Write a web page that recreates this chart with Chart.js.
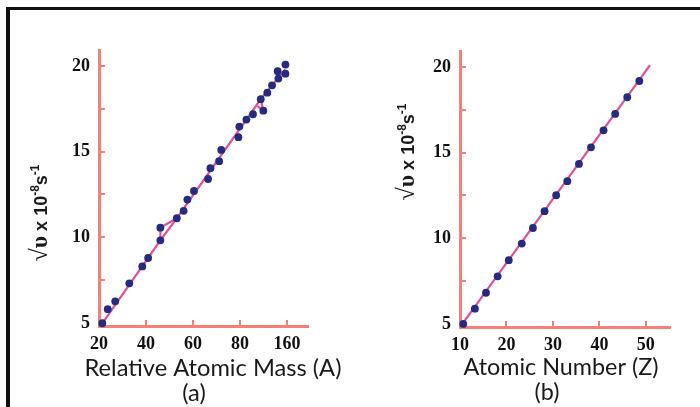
<!DOCTYPE html>
<html><head><meta charset="utf-8">
<script src="https://cdn.jsdelivr.net/npm/chart.js@4.4.1/dist/chart.umd.min.js"></script>
<style>
html,body{margin:0;padding:0;background:#fff;width:700px;height:407px;overflow:hidden;position:relative}
#frame{position:absolute;left:6px;top:7px;width:700px;height:410px;border-top:3px solid #111;border-left:4px solid #111;box-sizing:border-box}
.c{position:absolute;top:0;width:350px;height:407px}
</style></head><body>
<div id="frame"></div>
<div class="c" style="left:0"><canvas id="a" width="350" height="407"></canvas></div>
<div class="c" style="left:350px"><canvas id="b" width="350" height="407"></canvas></div>
<script>
// ---- Chart (a): relative atomic mass (x positions in axis units 20..100, last tick labelled 160)
const massA = [21.4, 23.7, 26.9, 32.9, 38.4, 40.9, 46.1, 46.1, 53.1, 56.0, 57.6, 60.4, 66.4, 67.4,
               71.1, 72.0, 79.3, 79.7, 82.7, 85.5, 88.8, 89.9, 91.6, 93.6, 96.0, 96.3, 99.3, 99.3];
const rootFreqA = [4.98, 5.80, 6.26, 7.31, 8.30, 8.79, 9.82, 10.56, 11.11, 11.54, 12.20, 12.70, 13.40, 14.03,
                   14.44, 15.10, 15.84, 16.46, 16.87, 17.18, 18.06, 17.39, 18.44, 18.87, 19.69, 19.26, 20.08, 19.55];
const trendMassA = [21.4, 46.1, 53.1, 88.8, 99.2];
const trendFreqA = [4.98, 9.82, 11.11, 18.06, 19.8];
const detour1MassA = [46.1, 46.1, 53.1];
const detour1FreqA = [9.82, 10.56, 11.11];
const detour2MassA = [87.4, 89.9, 88.8];
const detour2FreqA = [17.65, 17.39, 18.06];
const xTicksA = [20, 40, 60, 80, 100];
const xTickLabelsA = ['20', '40', '60', '80', '160'];

// ---- Chart (b): atomic number
const atomicZ = [10.7, 13.2, 15.6, 18.1, 20.5, 23.3, 25.7, 28.2, 30.7, 33.1, 35.6, 38.2, 40.9, 43.4, 46.0, 48.6];
const rootFreqB = [5.00, 5.89, 6.82, 7.78, 8.72, 9.69, 10.60, 11.58, 12.51, 13.33, 14.34, 15.31, 16.30, 17.26, 18.23, 19.18];
const trendZB = [10.2, 50.9];
const trendFreqB = [4.88, 20.1];
const xTicksB = [10, 20, 30, 40, 50];
const xTickLabelsB = ['10', '20', '30', '40', '50'];

const yTicks = [5, 7.5, 10, 12.5, 15, 17.5, 20];

const AXIS = 'rgb(244,128,122)';
const LINE = 'rgb(226,78,150)';
const DOT = 'rgb(38,42,128)';
const TEXT = '#1a1a1a';

function pts(xs, ys) { return xs.map((x, i) => ({x: x, y: ys[i]})); }

function drawYTitle(ctx, cx, cy) {
  ctx.save();
  ctx.translate(cx, cy);
  ctx.rotate(-Math.PI / 2);
  ctx.fillStyle = TEXT;
  ctx.textBaseline = 'alphabetic';
  const parts = [
    {t: '\u221A', f: '24px "Liberation Serif"', dy: 0},
    {t: '\u03C5', f: 'bold 24px "Liberation Serif"', dy: 0},
    {t: ' x 10', f: 'bold 18px "Liberation Sans"', dy: 0},
    {t: '-8', f: 'bold 12px "Liberation Sans"', dy: -8},
    {t: 's', f: 'bold 18px "Liberation Sans"', dy: 0},
    {t: '-1', f: 'bold 12px "Liberation Sans"', dy: -8}
  ];
  let w = 0;
  parts.forEach(p => { ctx.font = p.f; p.w = ctx.measureText(p.t).width; w += p.w; });
  let x = -w / 2;
  parts.forEach(p => { ctx.font = p.f; ctx.fillText(p.t, x, 7 + p.dy); x += p.w; });
  ctx.restore();
}

function fitText(ctx, text, cx, cy, targetW, family) {
  ctx.save();
  let size = 20;
  ctx.font = size + 'px ' + family;
  const w = ctx.measureText(text).width;
  size = size * targetW / w;
  ctx.font = size.toFixed(2) + 'px ' + family;
  ctx.fillStyle = TEXT;
  ctx.textAlign = 'center';
  ctx.textBaseline = 'middle';
  ctx.fillText(text, cx, cy);
  ctx.restore();
  return size;
}

function plainText(ctx, text, cx, cy, size, family) {
  ctx.save();
  ctx.font = size.toFixed(2) + 'px ' + family;
  ctx.fillStyle = TEXT;
  ctx.textAlign = 'center';
  ctx.textBaseline = 'middle';
  ctx.fillText(text, cx, cy);
  ctx.restore();
}

function makeChart(id, o) {
  const titles = {
    id: 'titles',
    afterDraw(chart) {
      const ctx = chart.ctx;
      drawYTitle(ctx, o.yTitle[0], o.yTitle[1]);
      const s = fitText(ctx, o.xTitle, o.xTitlePos[0], o.xTitlePos[1], o.xTitleW, 'Lato');
      plainText(ctx, o.sub, o.subPos[0], o.subPos[1], s, 'Lato');
    }
  };
  const datasets = [];
  o.lines.forEach(l => datasets.push({
    type: 'line', data: l, showLine: true, borderColor: LINE, borderWidth: 2.2,
    pointRadius: 0, fill: false, tension: 0, clip: false, order: 2
  }));
  datasets.push({
    type: 'scatter', data: o.points, backgroundColor: DOT, borderColor: DOT,
    pointRadius: 3.9, borderWidth: 0, clip: false, order: 1
  });
  return new Chart(document.getElementById(id), {
    type: 'scatter',
    data: {datasets},
    options: {
      responsive: false, animation: false,
      layout: {padding: {left: 0, top: o.area.top, right: 350 - o.area.right, bottom: 0}},
      plugins: {legend: {display: false}, tooltip: {enabled: false}},
      scales: {
        x: {
          type: 'linear', min: o.xMin, max: o.xMax,
          afterFit(s) { s.height = 407 - o.area.bottom; },
          afterBuildTicks(s) { s.ticks = o.xTicks.map(v => ({value: v})); },
          border: {display: true, color: AXIS, width: 3},
          grid: {drawOnChartArea: false, drawTicks: true, tickLength: -6, color: AXIS, lineWidth: 2},
          ticks: {
            autoSkip: false, maxRotation: 0, padding: 14, color: '#111',
            font: {family: '"Liberation Serif"', weight: 'bold', size: 18},
            callback: (v) => { const i = o.xTicks.indexOf(v); return i >= 0 ? o.xLabels[i] : ''; }
          }
        },
        y: {
          type: 'linear', min: 4.82, max: 20.93,
          afterFit(s) { s.width = o.area.left; },
          afterBuildTicks(s) { s.ticks = yTicks.map(v => ({value: v})); },
          border: {display: true, color: AXIS, width: 3},
          grid: {drawOnChartArea: false, drawTicks: true, tickLength: -6, color: AXIS, lineWidth: 2},
          ticks: {
            autoSkip: false, padding: 15, color: '#111',
            font: {family: '"Liberation Serif"', weight: 'bold', size: 18},
            callback: (v) => (v % 5 === 0 ? String(v) : '')
          }
        }
      }
    },
    plugins: [titles]
  });
}

makeChart('a', {
  area: {left: 99, right: 308, top: 50, bottom: 326},
  xMin: 20, xMax: 108.9, xTicks: xTicksA, xLabels: xTickLabelsA,
  points: pts(massA, rootFreqA),
  lines: [pts(trendMassA, trendFreqA), pts(detour1MassA, detour1FreqA), pts(detour2MassA, detour2FreqA)],
  yTitle: [40, 213],
  xTitle: 'Relative Atomic Mass (A)', xTitlePos: [213, 368], xTitleW: 257,
  sub: '(a)', subPos: [194, 393]
});

makeChart('b', {
  area: {left: 110, right: 320, top: 51, bottom: 327},
  xMin: 10, xMax: 55.2, xTicks: xTicksB, xLabels: xTickLabelsB,
  points: pts(atomicZ, rootFreqB),
  lines: [pts(trendZB, trendFreqB)],
  yTitle: [57, 152],
  xTitle: 'Atomic Number (Z)', xTitlePos: [211, 367], xTitleW: 195,
  sub: '(b)', subPos: [197, 392]
});
</script>
</body></html>
